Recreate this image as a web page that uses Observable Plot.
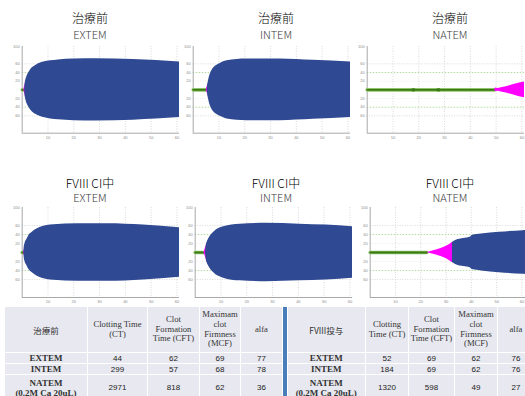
<!DOCTYPE html>
<html><head><meta charset="utf-8">
<script src="https://cdn.jsdelivr.net/npm/d3@7"></script>
<script src="https://cdn.jsdelivr.net/npm/@observablehq/plot@0.6"></script>
<style>
body{margin:0;background:#fff;}
#root{position:relative;width:525px;height:396px;overflow:hidden;font-family:"Noto Sans CJK JP","Noto Sans",sans-serif;}
.t1,.t2{position:absolute;width:160px;text-align:center;white-space:nowrap;line-height:1;font-weight:300;}
.t1{font-size:12px;color:#000;height:12px;}
.t2{font-size:11px;color:#3a3a3a;height:11px;}
.panel{position:absolute;}
.cell{position:absolute;background:#e8e9f0;display:flex;align-items:center;justify-content:center;text-align:center;overflow:hidden;color:#222;}
.hd{font-family:"Liberation Serif",serif;font-size:8.6px;line-height:9.7px;color:#333;}
.hc{font-family:"Noto Sans CJK JP",sans-serif;font-size:8.5px;color:#333;}
.lb{font-family:"Liberation Serif",serif;font-weight:bold;font-size:9px;line-height:10px;color:#333;}
.num{font-family:"Liberation Sans",Arial,sans-serif;font-size:8px;color:#222;}
#bar{position:absolute;left:282.5px;top:307px;width:4.5px;height:95px;background:#4a7ebb;}
</style></head>
<body><div id="root"></div>
<script>
// ---- axis ticks ----
const xTicks = [10, 20, 30, 40, 50, 60];
const yTicks = [100, 60, 40, 20, -20, -40, -60];

// ---- titles ----
const rowTitles = ["治療前", "FVIII CI中"];
const testNames = ["EXTEM", "INTEM", "NATEM"];

// ---- traces (time in min, half amplitude) ----
// 治療前 EXTEM
const preExGreen = [0, 0.7];
const preExMagT = [0.6, 1.2, 1.8];
const preExMagA = [0, 14, 28];
const preExBlueT = [0.95, 1.1, 1.4, 1.9, 2.6, 3.2, 4.2, 5.4, 8.3, 11, 14, 20, 29, 43, 52, 61];
const preExBlueA = [0, 12, 22, 32, 40, 46, 52, 57, 64, 67, 69, 71, 72, 70, 67.5, 64];
// 治療前 INTEM
const preInGreen = [0, 5.2];
const preInMagT = [5.0, 5.7, 6.4];
const preInMagA = [0, 12, 24];
const preInBlueT = [5.4, 5.6, 5.9, 6.6, 7.2, 8, 9.2, 10.5, 13.1, 20.8, 33.7, 46.5, 61];
const preInBlueA = [0, 10, 20, 36, 44, 51, 57, 61, 67, 71, 71, 68, 64];
// 治療前 NATEM
const preNaGreen = [0, 49.5];
const preNaMarks = [17.9, 27.6];
const preNaMagT = [49.4, 49.8, 50.6, 52, 55, 58, 61];
const preNaMagA = [0, 4, 3, 5, 9, 14, 18];
const preNaBlueT = [];
const preNaBlueA = [];
// FVIII EXTEM
const postExGreen = [0, 0.6];
const postExMagT = [0.5, 1.1, 1.7];
const postExMagA = [0, 13, 26];
const postExBlueT = [0.65, 0.8, 1.1, 1.9, 2.6, 3.9, 7.1, 12.2, 21.3, 33, 47, 61];
const postExBlueA = [0, 12, 20, 30, 38, 45, 56, 61.5, 64, 64, 61, 55];
// FVIII INTEM
const postInGreen = [0, 3.6];
const postInMagT = [3.4, 4.1, 4.8];
const postInMagA = [0, 12, 24];
const postInBlueT = [4.0, 4.2, 4.6, 5.2, 7.2, 11, 17.4, 27.7, 40.5, 50.8, 61];
const postInBlueA = [0, 12, 22, 30, 45, 57, 63, 65, 63, 61, 57];
// FVIII NATEM
const postNaGreen = [0, 22.4];
const postNaMagT = [22.4, 25, 28, 30.5, 32.6];
const postNaMagA = [0, 4, 9, 15, 23];
const postNaBlueT = [32.5, 34, 37, 39.5, 40.4, 44, 51, 60.5, 62];
const postNaBlueA = [22, 27, 31, 34, 38, 41, 45, 48.5, 49];

// ---- table ----
const headPre = [["Clotting Time", "(CT)"], ["Clot", "Formation", "Time (CFT)"], ["Maximam", "clot", "Firmness", "(MCF)"], ["alfa"]];
const headPost = [["Clotting", "Time (CT)"], ["Clot", "Formation", "Time (CFT)"], ["Maximam", "clot", "Firmness", "(MCF)"], ["alfa"]];
const tableTitles = ["治療前", "FVIII投与"];
const rowLabels = [["EXTEM"], ["INTEM"], ["NATEM", "(0.2M Ca 20uL)"]];
const valuesPre = [[44, 62, 69, 77], [299, 57, 68, 78], [2971, 818, 62, 36]];
const valuesPost = [[52, 69, 62, 76], [184, 69, 62, 76], [1320, 598, 49, 27]];

const root = document.getElementById("root");
const zip = (T, A) => T.map((t, i) => ({t, a: A[i]}));

function panel(o) {
  const plotH = o.bottom - o.plotTop;
  const mT = 5, mB = 11.3, mL = 21.7;
  const green = o.green.map(t => ({t, a: 0}));
  const chart = Plot.plot({
    width: 180, height: mT + plotH + mB,
    marginTop: mT, marginBottom: mB, marginLeft: mL, marginRight: 1,
    x: {domain: [0, o.xMax], axis: null},
    y: {domain: [-100, 100], axis: null},
    style: {background: "transparent", overflow: "visible", fontFamily: "Liberation Sans, sans-serif"},
    marks: [
      Plot.ruleX(xTicks, {stroke: "#c9c9c9", strokeDasharray: "1,1.5", strokeWidth: 0.7}),
      Plot.ruleY([60, -60], {stroke: "#c9c9c9", strokeDasharray: "1,1.5", strokeWidth: 0.7}),
      Plot.ruleY([20, -20], {stroke: "#dedede", strokeDasharray: "1,1.5", strokeWidth: 0.6}),
      Plot.ruleY([40, -40], {stroke: "#9fd38a", strokeDasharray: "1.5,1.5", strokeWidth: 0.8}),
      Plot.ruleX([0], {stroke: "#a8a8a8", strokeWidth: 1}),
      Plot.ruleY([-100], {stroke: "#a8a8a8", strokeWidth: 1}),
      Plot.axisX(xTicks, {tickSize: 0, tickPadding: 3, fontSize: 4, fill: "#8a8a8a", label: null}),
      Plot.axisY(yTicks, {tickSize: 0, tickPadding: 2.5, fontSize: 4, fill: "#8a8a8a", label: null, tickFormat: d => Math.abs(d)}),
      Plot.line(green, {x: "t", y: "a", stroke: "#8fc46a", strokeWidth: 3.6}),
      Plot.line(green, {x: "t", y: "a", stroke: "#3b7a14", strokeWidth: 1.8}),
      Plot.dot(o.marks || [], {x: d => d, y: 0, symbol: "square", r: 1.7, fill: "#3b7a14"}),
      Plot.areaY(zip(o.magT, o.magA), {x: "t", y1: d => -d.a, y2: d => d.a, fill: "#ff00ff", curve: "monotone-x"}),
      Plot.areaY(zip(o.blueT, o.blueA), {x: "t", y1: d => -d.a, y2: d => d.a, fill: "#2f4a93", curve: "monotone-x"})
    ]
  });
  chart.classList.add("panel");
  chart.style.left = (o.axisX - mL) + "px";
  chart.style.top = (o.plotTop - mT) + "px";
  root.appendChild(chart);
}

const rowGeo = [{plotTop: 46, bottom: 132.7}, {plotTop: 207, bottom: 297}];
const axisXs = [[21.7, 193, 367], [21.7, 195, 370]];
const xMaxs = [[61, 61, 61], [61, 61, 62.2]];
const traces = [
  [[preExGreen, null, preExMagT, preExMagA, preExBlueT, preExBlueA],
   [preInGreen, null, preInMagT, preInMagA, preInBlueT, preInBlueA],
   [preNaGreen, preNaMarks, preNaMagT, preNaMagA, preNaBlueT, preNaBlueA]],
  [[postExGreen, null, postExMagT, postExMagA, postExBlueT, postExBlueA],
   [postInGreen, null, postInMagT, postInMagA, postInBlueT, postInBlueA],
   [postNaGreen, null, postNaMagT, postNaMagA, postNaBlueT, postNaBlueA]]
];
traces.forEach((row, r) => row.forEach((tr, c) => {
  panel({plotTop: rowGeo[r].plotTop, bottom: rowGeo[r].bottom, axisX: axisXs[r][c], xMax: xMaxs[r][c],
    green: tr[0], marks: tr[1], magT: tr[2], magA: tr[3], blueT: tr[4], blueA: tr[5]});
}));

// titles
const titleCx = [90, 276, 450];
const titleTop1 = [12.3, 176.8];
const titleTop2 = [28.8, 192];
[0, 1].forEach(r => titleCx.forEach((cx, c) => {
  const a = document.createElement("div");
  a.className = "t1"; a.textContent = rowTitles[r];
  a.style.left = (cx - 80) + "px"; a.style.top = titleTop1[r] + "px";
  root.appendChild(a);
  const b = document.createElement("div");
  b.className = "t2"; b.textContent = testNames[c];
  b.style.left = (cx - 80) + "px"; b.style.top = titleTop2[r] + "px";
  root.appendChild(b);
}));

// tables
const rowEdges = [307, 353, 364, 375, 401];
function cell(x0, x1, y0, y1, cls, lines) {
  const d = document.createElement("div");
  d.className = "cell";
  d.style.left = x0 + "px"; d.style.top = y0 + "px";
  d.style.width = (x1 - x0 - 1) + "px"; d.style.height = (y1 - y0 - 1) + "px";
  const s = document.createElement("div");
  s.className = cls;
  s.innerHTML = lines.join("<br>");
  d.appendChild(s);
  root.appendChild(d);
}
function table(colEdges, title, heads, values) {
  cell(colEdges[0], colEdges[1], rowEdges[0], rowEdges[1], "hc", [title]);
  heads.forEach((h, j) => cell(colEdges[j + 1], colEdges[j + 2], rowEdges[0], rowEdges[1], "hd", h));
  rowLabels.forEach((lab, i) => {
    cell(colEdges[0], colEdges[1], rowEdges[i + 1], rowEdges[i + 2], "lb", lab);
    values[i].forEach((v, j) => cell(colEdges[j + 1], colEdges[j + 2], rowEdges[i + 1], rowEdges[i + 2], "num", [String(v)]));
  });
}
table([5, 88, 148, 200, 241, 283], tableTitles[0], headPre, valuesPre);
table([287.5, 366, 409, 455, 498, 535], tableTitles[1], headPost, valuesPost);
const bar = document.createElement("div"); bar.id = "bar"; root.appendChild(bar);
</script>
</body></html>
